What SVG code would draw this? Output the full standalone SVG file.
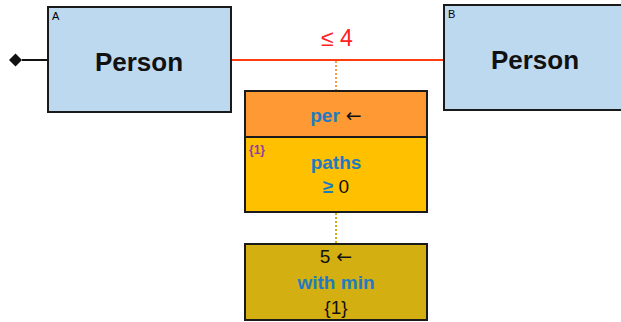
<svg xmlns="http://www.w3.org/2000/svg" width="621" height="322" viewBox="0 0 621 322">
<style>
.cls{fill:#BDD9F0;stroke:#1a1a1a;stroke-width:2}
.lbl{font-family:"Liberation Sans",Arial,sans-serif;font-size:11px;fill:#000}
.name{font-family:"Liberation Sans",Arial,sans-serif;font-size:26px;font-weight:bold;fill:#111;text-anchor:middle}
.t{font-family:"Liberation Sans",Arial,sans-serif;font-size:19px;text-anchor:middle}
.blue{fill:#1F7BC1;font-weight:bold}
.blk{fill:#111}
.arr{font-family:"DejaVu Sans",sans-serif;fill:#111;font-size:19px}
.box{stroke:#1a1a1a;stroke-width:2}
</style>
<g id="connectors">
<line x1="22" y1="60" x2="48" y2="60" stroke="#111" stroke-width="2"/>
<polygon points="9,60 15.5,53.5 22,60 15.5,66.5" fill="#111"/>
<line x1="231" y1="60" x2="444" y2="60" stroke="#FF3B10" stroke-width="2"/>
<text x="337" y="46" font-family="Liberation Sans,Arial,sans-serif" font-size="23" fill="#FF2020" text-anchor="middle">≤ 4</text>
<line x1="336" y1="61" x2="336" y2="90" stroke="#F5A040" stroke-width="2" stroke-dasharray="2,2"/>
<line x1="336" y1="213" x2="336" y2="243" stroke="#D4AC0D" stroke-width="2" stroke-dasharray="2,2"/>
</g>
<g id="nodeA">
<rect class="cls" x="48" y="7" width="183" height="105"/>
<text class="lbl" x="52" y="20">A</text>
<text class="name" x="139" y="71">Person</text>
</g>
<g id="nodeB">
<rect class="cls" x="444" y="5" width="180" height="105"/>
<text class="lbl" x="448" y="18">B</text>
<text class="name" x="535" y="69">Person</text>
</g>
<g id="per">
<rect class="box" x="245" y="91" width="182" height="46" fill="#FF9933"/>
<text class="t" x="336" y="122"><tspan class="blue">per</tspan><tspan class="arr"> ←</tspan></text>
</g>
<g id="paths">
<rect class="box" x="245" y="137" width="182" height="75" fill="#FFC000"/>
<text x="249" y="154" font-family="Liberation Sans,Arial,sans-serif" font-size="12" font-weight="bold" fill="#8E3FA0">{1}</text>
<text class="t" x="336" y="169"><tspan class="blue">paths</tspan></text>
<text class="t" x="336" y="193"><tspan class="blue">≥</tspan><tspan class="blk"> 0</tspan></text>
</g>
<g id="withmin">
<rect class="box" x="245" y="244" width="182" height="76" fill="#D4AF12"/>
<text class="t" x="336" y="263"><tspan class="blk">5</tspan><tspan class="arr"> ←</tspan></text>
<text class="t" x="336" y="289"><tspan class="blue">with min</tspan></text>
<text class="t blk" x="336" y="314">{1}</text>
</g>
</svg>
